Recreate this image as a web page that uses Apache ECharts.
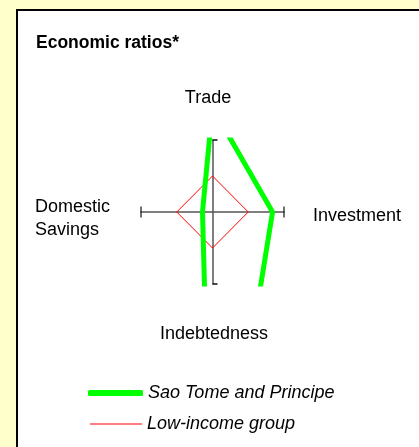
<!DOCTYPE html>
<html>
<head>
<meta charset="utf-8">
<script src="https://cdn.jsdelivr.net/npm/echarts@6/dist/echarts.min.js"></script>
<style>
  html, body { margin: 0; padding: 0; background: #FFFFCC; }
  #chart { width: 419px; height: 447px; }
</style>
</head>
<body>
<div id="chart"></div>
<script>
// ratios indexed so the low-income group sits at 50 on every axis (axis end = 100)
var axisNames = ['Trade', 'Investment', 'Indebtedness', 'Domestic\nSavings']
var saoTome = [145, 84, 516, 14]
var lowIncome = [50, 50, 50, 50]
var seriesNames = ['Sao Tome and Principe', 'Low-income group']

// trade up, investment right, indebtedness down, savings left
function toPolygon (vals) {
  var pts = [[0, vals[0]], [vals[1], 0], [0, -vals[2]], [-vals[3], 0]]
  pts.push(pts[0])
  return pts
}

var font = '"Liberation Sans", Arial, sans-serif'
var legendText = { fontFamily: font, fontSize: 18, fontStyle: 'italic', color: '#000', lineHeight: 20 }
var chart = echarts.init(document.getElementById('chart'))

chart.setOption({
  animation: false,
  backgroundColor: 'transparent',
  title: {
    text: 'Economic ratios*',
    left: 36,
    top: 34,
    padding: 0,
    textStyle: { fontFamily: font, fontSize: 17.5, fontWeight: 'bold', color: '#000' }
  },
  grid: { left: 141, top: 140, width: 143, height: 144 },
  xAxis: {
    type: 'value',
    min: -100,
    max: 100,
    axisLine: { onZero: true, lineStyle: { color: '#555', width: 1.5 } },
    axisTick: { show: false },
    axisLabel: { show: false },
    splitLine: { show: false }
  },
  yAxis: {
    type: 'value',
    min: -100,
    max: 100,
    interval: 200, // ticks only at -100 and 100 (the end caps)
    axisLine: { show: true, onZero: true, lineStyle: { color: '#555', width: 1.5 } },
    axisTick: { show: true, inside: true, length: 5, lineStyle: { color: '#111', width: 1.5 } },
    axisLabel: { show: false },
    splitLine: { show: false }
  },
  legend: [
    {
      left: 88,
      top: 383,
      padding: 0,
      itemWidth: 55,
      itemHeight: 6,
      icon: 'roundRect',
      textStyle: legendText,
      data: [seriesNames[0]]
    },
    {
      left: 90,
      top: 414,
      padding: 0,
      itemWidth: 52,
      itemHeight: 1.2,
      icon: 'rect',
      textStyle: legendText,
      data: [seriesNames[1]]
    }
  ],
  graphic: [
    {
      type: 'rect', z: -10, silent: true,
      shape: { x: 17, y: 10, width: 420, height: 450 },
      style: { fill: '#fff', stroke: '#000', lineWidth: 2 }
    },
    { type: 'text', x: 208, y: 98, style: { text: axisNames[0], font: '18px ' + font, fill: '#000', textAlign: 'center', textVerticalAlign: 'middle', verticalAlign: 'middle' } },
    { type: 'text', x: 313, y: 216, style: { text: axisNames[1], font: '18px ' + font, fill: '#000', textAlign: 'left', textVerticalAlign: 'middle', verticalAlign: 'middle' } },
    { type: 'text', x: 214, y: 334, style: { text: axisNames[2], font: '18px ' + font, fill: '#000', textAlign: 'center', textVerticalAlign: 'middle', verticalAlign: 'middle' } },
    { type: 'text', x: 35, y: 219, style: { text: axisNames[3], font: '18px ' + font, lineHeight: 23, fill: '#000', textAlign: 'left', textVerticalAlign: 'middle', verticalAlign: 'middle' } }
  ],
  series: [
    {
      // end caps of the horizontal axis
      type: 'scatter',
      symbol: 'rect',
      symbolSize: [1.5, 11],
      clip: false,
      silent: true,
      itemStyle: { color: '#111' },
      data: [[-100, 0], [100, 0]],
      z: 1
    },
    {
      name: seriesNames[1],
      type: 'line',
      data: toPolygon(lowIncome),
      showSymbol: false,
      symbol: 'none',
      lineStyle: { color: '#ff0000', width: 1 },
      itemStyle: { color: '#ff0000' },
      z: 2
    },
    {
      name: seriesNames[0],
      type: 'line',
      data: toPolygon(saoTome),
      clip: true,
      showSymbol: false,
      symbol: 'none',
      lineStyle: { color: '#00ff00', width: 5, join: 'miter' },
      itemStyle: { color: '#00ff00' },
      z: 3
    }
  ]
})
</script>
</body>
</html>
